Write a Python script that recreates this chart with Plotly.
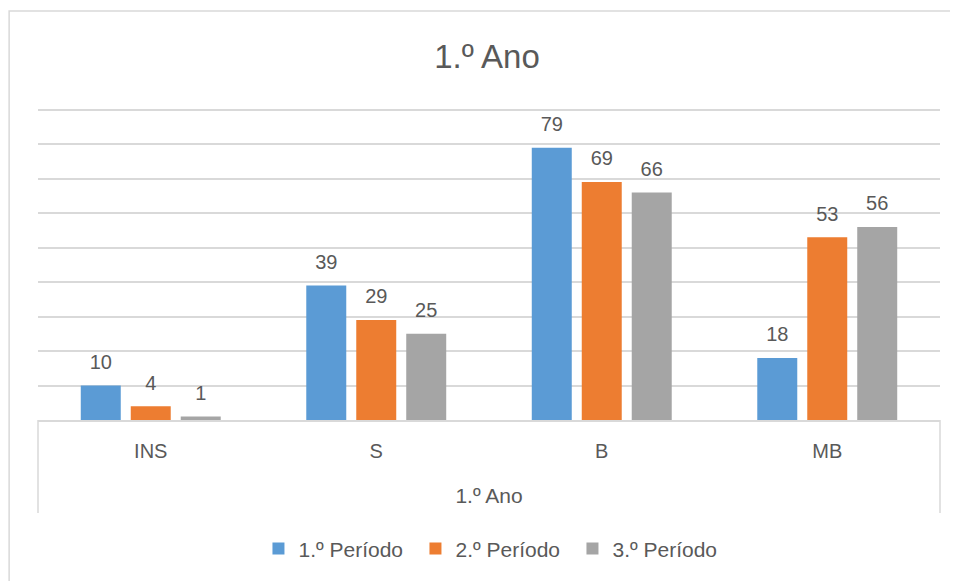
import plotly.graph_objects as go

# data
ano = "1.º Ano"
niveis = ["INS", "S", "B", "MB"]
periodo_1 = [10, 39, 79, 18]
periodo_2 = [4, 29, 69, 53]
periodo_3 = [1, 25, 66, 56]
series_names = ["1.º Período", "2.º Período", "3.º Período"]
colors = ["#5b9bd5", "#ed7d31", "#a5a5a5"]

text_grey = "#595959"
line_grey = "#d9d9d9"
font_family = "Liberation Sans, Arial, sans-serif"

fig = go.Figure()
for i, (name, vals, col) in enumerate(zip(series_names, [periodo_1, periodo_2, periodo_3], colors)):
    fig.add_trace(go.Bar(
        x=niveis, y=vals, name=name,
        offsetgroup=str(i),
        marker=dict(color=col, line=dict(width=0)),
        hoverinfo="y+name",
    ))
    # value labels, lifted above the bars by an invisible marker
    fig.add_trace(go.Scatter(
        x=niveis, y=vals, mode="markers+text",
        offsetgroup=str(i),
        text=[str(v) for v in vals], textposition="top center",
        textfont=dict(size=20, color=text_grey),
        marker=dict(size=17, opacity=0),
        showlegend=False, hoverinfo="skip", cliponaxis=False,
    ))

# outer chart frame like the spreadsheet export
fig.add_shape(type="rect", xref="paper", yref="paper",
              x0=-0.032, x1=1.2, y0=-1.0, y1=1.311,
              line=dict(color=line_grey, width=1.5), layer="below")
# side walls of the category box under the axis
for xp in (0, 1):
    fig.add_shape(type="line", xref="paper", yref="paper",
                  x0=xp, x1=xp, y0=0, y1=-0.298,
                  line=dict(color=line_grey, width=1.5))

fig.update_layout(
    width=958, height=581,
    margin=dict(l=30, r=26, t=100, b=169),
    paper_bgcolor="white", plot_bgcolor="white",
    font=dict(family=font_family, color=text_grey, size=20),
    title=dict(text=ano, x=0.5, xanchor="center", y=0.916, yanchor="middle",
               font=dict(size=33, color=text_grey)),
    barmode="group", scattermode="group",
    bargap=0.335, bargroupgap=0.2, scattergap=0.335,
    showlegend=True,
    legend=dict(orientation="h", x=0.5055, xanchor="center", y=-0.413, yanchor="middle",
                font=dict(size=21, color=text_grey), traceorder="normal",
                entrywidth=112),
)
fig.update_xaxes(
    type="category", automargin=False,
    showline=True, linecolor=line_grey, linewidth=1.5,
    showgrid=False, ticks="", ticklabelstandoff=12,
    tickfont=dict(size=20, color=text_grey),
    title=dict(text=ano, font=dict(size=21, color=text_grey), standoff=28),
)
fig.update_yaxes(
    range=[0, 90.5], dtick=10, showgrid=True, gridcolor=line_grey, gridwidth=1.5,
    showticklabels=False, zeroline=False, showline=False, automargin=False,
)

fig.write_html("out.html")
